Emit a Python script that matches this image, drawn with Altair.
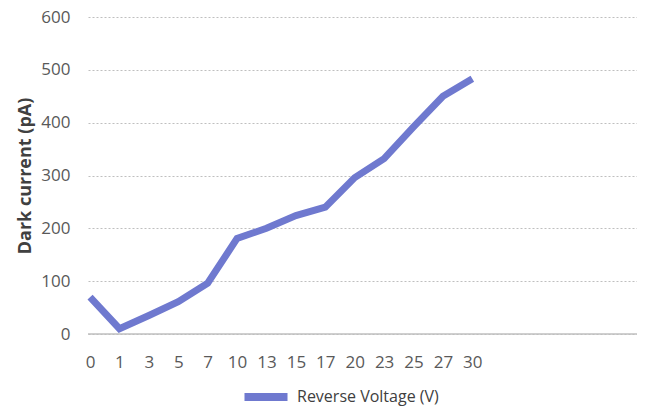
import altair as alt
import pandas as pd
import json

voltages = ["0", "1", "3", "5", "7", "10", "13", "15", "17", "20", "23", "25", "27", "30"]
dark_current = [70, 10, 35, 61, 96, 181, 200, 224, 240, 296, 332, 392, 450, 483]
series_name = "Reverse Voltage (V)"

df = pd.DataFrame({
    "idx": list(range(len(voltages))),
    "voltage": voltages,
    "current": dark_current,
    "series": [series_name] * len(voltages),
})

label_expr = json.dumps(voltages) + "[round(datum.value)] || ''"
font = "Open Sans"

chart = alt.Chart(df).mark_line(strokeWidth=7, strokeCap="butt", strokeJoin="miter", clip=False).encode(
    x=alt.X("idx:Q", scale=alt.Scale(domain=[-0.07, 18.6], nice=False, zero=False),
            axis=alt.Axis(title=None, values=list(range(len(voltages))), labelExpr=label_expr,
                          grid=False, ticks=False, domain=False, labelPadding=20,
                          labelFontSize=17, labelColor="#595959", labelFont=font)),
    y=alt.Y("current:Q", scale=alt.Scale(domain=[0, 600], nice=False),
            axis=alt.Axis(title="Dark current (pA)", values=[0, 100, 200, 300, 400, 500, 600],
                          grid=True, gridDash=[2, 2], gridColor="#bfbfbf", gridWidth=1,
                          ticks=False, domain=False, labelPadding=18,
                          labelFontSize=17, labelColor="#595959", labelFont=font,
                          titleFont=font, titleFontSize=18, titleFontWeight="bold",
                          titleColor="#404040", titlePadding=6)),
    color=alt.Color("series:N", scale=alt.Scale(range=["#6F79CF"]),
                    legend=alt.Legend(title=None, orient="none", legendX=152, legendY=354,
                                      padding=0, symbolType="stroke", symbolSize=1850,
                                      symbolStrokeWidth=8, labelFontSize=16, labelColor="#404040",
                                      labelFont=font, labelOffset=5)),
)

baseline = alt.Chart(pd.DataFrame({"y": [0]})).mark_rule(color="#bfbfbf", strokeWidth=1.5).encode(
    y="y:Q", x=alt.value(0), x2=alt.value(560)
)

final = alt.layer(baseline, chart).properties(
    width=549, height=317,
    padding={"left": 80, "top": 9, "right": 0, "bottom": 75},
    autosize=alt.AutoSizeParams(type="none"),
).configure_view(stroke=None)

final.save("out.html", embed_options={"renderer": "svg", "actions": False})
